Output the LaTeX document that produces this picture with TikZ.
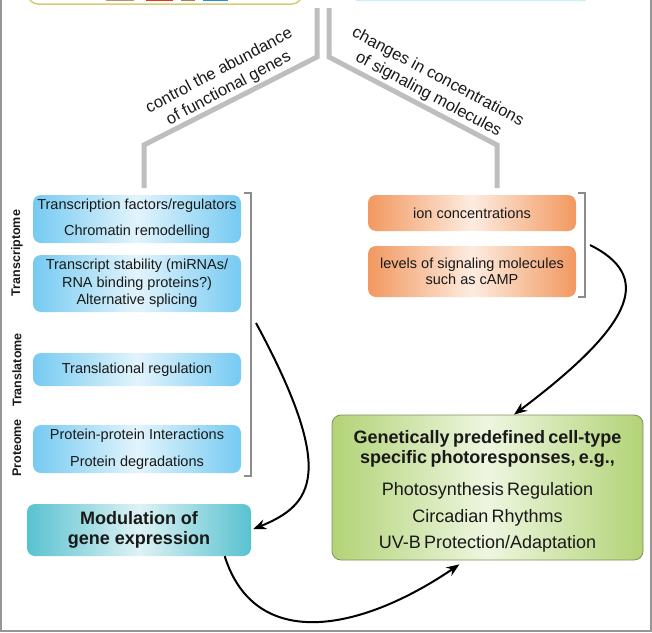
\documentclass[tikz,border=0pt]{standalone}
\usepackage{fontspec}
\setmainfont{Liberation Sans}
\usetikzlibrary{arrows.meta}
\definecolor{txt}{RGB}{25,25,25}
\definecolor{bcol}{RGB}{118,202,242}
\definecolor{bmid}{RGB}{226,244,252}
\definecolor{ocol}{RGB}{242,152,95}
\definecolor{omid}{RGB}{253,236,224}
\definecolor{mcol}{RGB}{88,194,208}
\definecolor{mmid}{RGB}{222,242,244}
\definecolor{gcol}{RGB}{178,211,118}
\definecolor{gmid}{RGB}{238,246,224}
\definecolor{gline}{RGB}{125,145,95}
\definecolor{trk}{RGB}{190,190,190}
\definecolor{brk}{RGB}{140,140,140}
\definecolor{frm}{RGB}{150,150,150}
\definecolor{ycol}{RGB}{214,204,118}
\definecolor{ccol}{RGB}{212,248,252}
\tikzset{every picture/.style={x=1pt,y=-1pt}}
\tikzset{bbox/.style={rounded corners=8pt,left color=bcol,right color=bcol,middle color=bmid,minimum width=208pt,inner sep=0pt,align=center,text=txt,font=\fontsize{14.5}{17.4}\selectfont}}
\tikzset{obox/.style={rounded corners=8pt,left color=ocol,right color=ocol,middle color=omid,minimum width=208pt,inner sep=0pt,align=center,text=txt,font=\fontsize{14.5}{16.5}\selectfont}}
\tikzset{side/.style={rotate=90,inner sep=0pt,text=txt,font=\bfseries\fontsize{12.5}{15}\selectfont}}
\tikzset{diag/.style={inner sep=0pt,align=center,text=txt,font=\fontsize{16.5}{19}\selectfont}}
\tikzset{trunk/.style={trk,line width=5pt}}
\tikzset{brack/.style={brk,line width=2.5pt}}
\tikzset{edge/.style={-{Stealth[length=13pt,width=10pt]},line width=2pt,black}}
\begin{document}
\begin{tikzpicture}
\useasboundingbox (0,0) rectangle (652,632);
\node [draw=ycol,line width=1.5pt,fill=white,rounded corners=10pt,minimum width=274pt,minimum height=48pt] (cell) at (165,-20) {};
\fill [brown!80!black!70] (106,-4) rectangle (134,1.4);
\fill [red!55!brown] (146,-4) rectangle (173,1.4);
\fill [brown!70!gray] (181,-4) rectangle (195,1.4);
\fill [blue!40!cyan!70!gray] (203,-4) rectangle (228,1.4);
\node [draw=ccol!70!gray,fill=ccol,rounded corners=8pt,minimum width=238pt,minimum height=42pt] (sig) at (471,-20) {};
\coordinate (l0) at (317,8);
\coordinate (l1) at (317,57);
\coordinate (l2) at (144,145);
\coordinate (l3) at (144,188);
\coordinate (r0) at (329,8);
\coordinate (r1) at (329,57);
\coordinate (r2) at (497,145);
\coordinate (r3) at (497,188);
\draw [trunk] (l0) -- (l1) -- (l2) -- (l3);
\draw [trunk] (r0) -- (r1) -- (r2) -- (r3);
\node [diag,rotate=28] (gl) at (224,80) {control the abundance\\[1pt]of functional genes};
\node [diag,rotate=-28] (gr) at (433,86) {changes in concentrations\\[1pt]of signaling molecules};

\node [bbox,minimum height=48pt] (tf) at (137,219) {Transcription factors/regulators\\[8.6pt]Chromatin remodelling};
\node [bbox,minimum height=57pt] (ts) at (137,283.5) {Transcript stability (miRNAs/\\RNA binding proteins?)\\Alternative splicing};
\node [bbox,minimum height=33pt] (tr) at (137,369.5) {Translational regulation};
\node [bbox,minimum height=48pt] (pp) at (137,449) {Protein-protein Interactions\\[9.6pt]Protein degradations};
\node [side] (tc) at (17,253) {Transcriptome};
\node [side] (tl) at (17,370) {Translatome};
\node [side] (pr) at (17,448) {Proteome};
\draw [brack] (244,193) -- (251,193) -- (251,476) -- (244,476);

\node [obox,minimum height=36pt] (ion) at (472,213) {ion concentrations};
\node [obox,minimum height=51pt] (lev) at (472,271.5) {levels of signaling molecules\\such as cAMP};
\draw [brack] (578,193) -- (585,193) -- (585,297) -- (578,297);

\node [rounded corners=8pt,left color=mcol,right color=mcol,middle color=mmid,minimum width=224pt,minimum height=52pt,inner sep=0pt,align=center,text=txt,font=\bfseries\fontsize{18}{20}\selectfont] (mod) at (139,530) {Modulation of\\gene expression};
\node [draw=gline,line width=0.8pt,rounded corners=9pt,left color=gcol,right color=gcol,middle color=gmid,minimum width=311pt,minimum height=145pt] (resp) at (487.5,487.5) {};
\node [inner sep=0pt,text width=305pt,align=center,text=txt] (resptxt) at (487.5,491.5) {{\bfseries\fontsize{18}{20}\selectfont Genetically predefined cell-type\\specific photoresponses, e.g.,\par}\vspace{6pt}{\fontsize{18}{26.5}\selectfont Photosynthesis Regulation\\Circadian Rhythms\\UV-B Protection/Adaptation\par}};

\coordinate (la) at (256,323);
\coordinate (ra) at (590,245);
\draw [edge,shorten >=2pt] (la) .. controls (338,475) and (312,505) .. (mod.east);
\draw [edge] (ra) .. controls (650,275) and (640,320) .. (resp.70);
\draw [edge,shorten >=7pt] (mod.-17) .. controls (255,652) and (360,632) .. (resp.-107);

\draw [frm,line width=2pt] (1,-5) -- (1,631) -- (651,631) -- (651,-5);
\end{tikzpicture}
\end{document}
